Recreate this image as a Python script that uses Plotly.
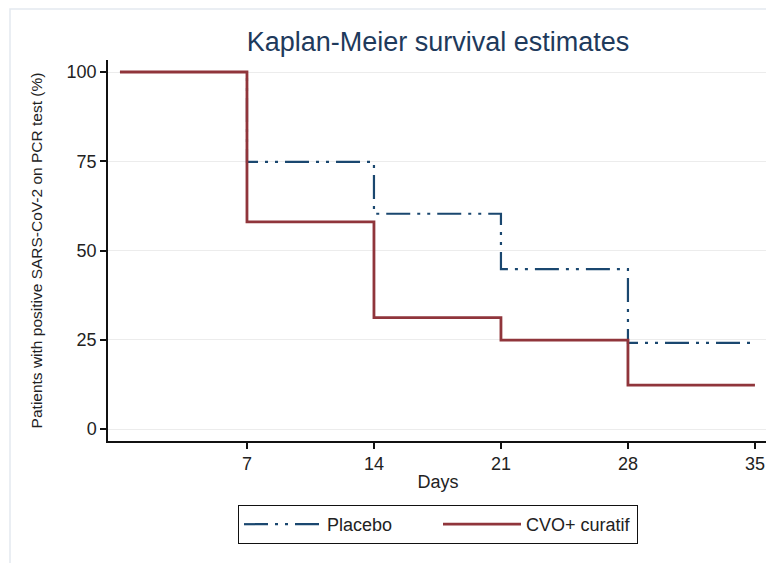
import plotly.graph_objects as go

days = [0, 7, 14, 21, 28, 35]
placebo = [100, 74.8, 60.3, 44.8, 24.1, 24.1]
cvo = [100, 58.0, 31.2, 24.9, 12.3, 12.3]
x_ticks = [7, 14, 21, 28, 35]
y_ticks = [0, 25, 50, 75, 100]

NAVY = "#1a476f"
MAROON = "#90353b"
FONT = "Liberation Sans, Arial, sans-serif"

fig = go.Figure()
fig.add_trace(go.Scatter(x=days, y=placebo, mode="lines", line_shape="hv", name="Placebo",
                         line=dict(color=NAVY, width=2.2, dash="24px,7px,3px,7px,3px,7px")))
fig.add_trace(go.Scatter(x=days, y=cvo, mode="lines", line_shape="hv", name="CVO+ curatif",
                         line=dict(color=MAROON, width=2.8)))

# page is offset by 8px body margin
W, H = 766, 555
L, T = 100, 52
R = W - 760
B = H - 433
pw, ph = W - L - R, H - T - B

fig.update_layout(
    width=W, height=H,
    margin=dict(l=L, r=R, t=T, b=B),
    paper_bgcolor="white", plot_bgcolor="white",
    font=dict(family=FONT, color="#222222", size=18),
    title=dict(text="Kaplan-Meier survival estimates", x=(L + pw / 2) / W, xanchor="center",
               y=1 - 34 / H, yanchor="middle",
               font=dict(size=27, color="#1e3a5c", family=FONT)),
    showlegend=True,
    legend=dict(orientation="h", x=0.5, xanchor="center", y=-(497 - 433) / ph, yanchor="top",
                bordercolor="#111111", borderwidth=1, bgcolor="white",
                font=dict(size=18, family=FONT), itemwidth=78, entrywidth=106,
                traceorder="normal"),
    xaxis=dict(range=[-0.66, 35.72], tickvals=x_ticks, ticks="outside", ticklen=6, tickwidth=1.5,
               tickcolor="#111", showline=True, linecolor="#111", linewidth=1.5, showgrid=False,
               zeroline=False, tickfont=dict(size=18),
               title=dict(text="Days", font=dict(size=18), standoff=2)),
    yaxis=dict(range=[-3.36, 103.36], tickvals=y_ticks, ticks="outside", ticklen=6, tickwidth=1.5,
               tickcolor="#111", showline=True, linecolor="#111", linewidth=1.5, showgrid=True,
               gridcolor="#ececec", gridwidth=1, zeroline=False, tickfont=dict(size=18),
               title=dict(text="Patients with positive SARS-CoV-2 on PCR test (%)",
                          font=dict(size=15.5), standoff=20)),
)

# outer light frame
fig.add_shape(type="rect", xref="paper", yref="paper",
              x0=(2 - L) / pw, x1=(W + 20 - L) / pw,
              y0=-(H + 20 - T - ph) / ph, y1=1 + (T - 1) / ph,
              line=dict(color="#e3e9f0", width=1.5), layer="below")

fig.write_html("out.html")
